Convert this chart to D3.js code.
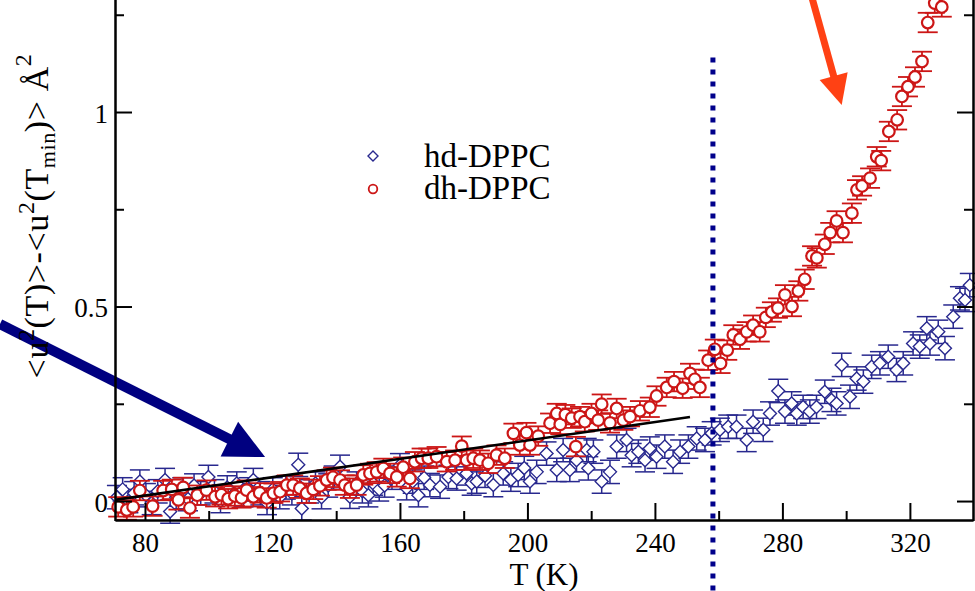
<!DOCTYPE html>
<html><head><meta charset="utf-8">
<script src="https://cdn.jsdelivr.net/npm/d3@7"></script>
<style>
html,body{margin:0;padding:0;background:#fff;overflow:hidden}
svg{display:block}
text{font-family:"Liberation Serif","Times New Roman",serif;fill:#000}
</style>
</head><body>
<svg id="chart" width="975" height="591"></svg>
<script>
// ---- data ----
const redName = "dh-DPPC";
const blueName = "hd-DPPC";
const redT = [71.6,74.3,76.3,78.4,82.4,85.7,88.4,90.5,92.0,94.1,
  96.4,99.3,102.0,104.0,106.1,108.2,110.3,111.9,114.0,116.0,
  118.2,120.3,122.4,124.5,126.5,128.6,130.7,132.8,134.9,137.0,
  139.0,141.2,142.7,144.3,146.4,148.5,150.6,152.7,154.8,156.9,
  159.0,161.0,163.1,164.7,166.8,168.9,171.5,174.7,177.3,179.4,
  180.9,183.0,185.1,187.7,190.3,192.9,195.6,197.6,199.7,200.8,
  203.4,207.1,209.2,210.3,211.9,213.9,215.2,216.5,218.0,220.1,
  222.2,223.3,225.9,228.0,230.1,232.2,235.3,238.4,240.5,243.7,
  246.0,248.7,251.0,252.5,254.1,256.7,258.8,260.6,262.7,264.6,
  266.7,268.8,270.8,272.9,274.8,276.7,278.6,280.8,283.0,285.0,
  287.0,289.3,290.8,293.3,295.0,297.0,299.0,301.8,303.4,305.0,
  307.5,309.6,311.0,313.4,316.0,317.5,319.4,321.6,323.8,325.6,
  327.8,330.0,332.0];
const redV = [-0.015,-0.023,-0.015,0.027,-0.013,0.027,0.030,0.003,0.035,-0.018,
  0.015,0.028,0.011,0.016,0.006,0.013,0.008,0.028,0.011,0.021,
  0.008,0.020,0.024,0.041,0.041,0.033,0.020,0.030,0.039,0.054,
  0.061,0.054,0.041,0.033,0.041,0.067,0.071,0.075,0.084,0.071,
  0.062,0.087,0.058,0.101,0.110,0.110,0.114,0.101,0.105,0.141,
  0.105,0.110,0.105,0.097,0.118,0.110,0.174,0.144,0.176,0.144,
  0.167,0.200,0.225,0.197,0.222,0.213,0.140,0.217,0.204,0.225,
  0.208,0.249,0.201,0.238,0.208,0.217,0.232,0.241,0.270,0.292,
  0.307,0.290,0.328,0.313,0.292,0.362,0.390,0.354,0.388,0.427,
  0.416,0.435,0.452,0.435,0.472,0.486,0.496,0.530,0.500,0.540,
  0.570,0.630,0.625,0.660,0.690,0.720,0.690,0.740,0.800,0.810,
  0.830,0.885,0.875,0.950,0.980,1.040,1.065,1.090,1.130,1.230,
  1.280,1.270,1.330];
const blueT = [71.2,73.0,74.8,76.6,78.4,80.3,82.1,84.0,86.3,87.9,
  89.8,91.7,93.5,95.4,97.5,99.9,101.8,103.7,105.8,108.8,
  110.9,112.5,114.0,116.2,118.3,120.1,122.3,124.2,126.1,128.1,
  129.2,131.5,133.5,135.4,137.5,139.2,141.2,144.3,146.4,148.2,
  150.1,151.6,153.5,155.2,157.5,160.0,162.1,164.0,165.8,167.6,
  169.4,172.6,175.2,177.8,180.9,182.5,184.1,186.7,189.3,192.4,
  194.8,197.1,199.0,200.8,202.9,206.0,209.2,211.2,213.3,215.4,
  218.6,219.1,220.7,223.3,225.9,228.0,231.1,232.7,234.8,236.9,
  238.4,240.5,243.1,245.7,247.9,250.5,253.1,255.7,257.8,260.4,
  263.0,265.6,268.8,270.8,274.0,276.1,278.7,280.8,282.9,284.5,
  286.5,288.6,290.7,293.3,295.4,297.0,298.6,301.2,303.3,305.4,
  308.0,310.6,313.2,315.8,317.9,321.0,323.1,325.3,326.3,328.9,
  331.0,333.6,335.7,337.3,338.8];
const blueV = [0.010,0.030,0.000,0.020,0.050,0.015,-0.005,0.025,0.054,-0.027,
  0.010,0.030,0.005,0.040,0.020,0.062,0.025,0.000,0.035,0.045,
  0.015,0.030,0.054,0.020,-0.005,0.030,0.010,0.035,0.020,0.093,
  -0.019,0.025,0.045,0.010,0.040,0.060,0.088,0.011,0.045,0.025,
  0.015,0.045,0.030,0.040,0.060,0.092,0.033,0.050,0.015,0.060,
  0.041,0.037,0.062,0.058,0.071,0.045,0.050,0.065,0.041,0.071,
  0.055,0.067,0.085,0.050,0.075,0.122,0.080,0.131,0.080,0.105,
  0.131,0.084,0.127,0.050,0.075,0.140,0.157,0.118,0.127,0.105,
  0.135,0.114,0.140,0.101,0.127,0.140,0.161,0.157,0.174,0.183,
  0.191,0.191,0.157,0.204,0.183,0.225,0.283,0.230,0.251,0.225,
  0.242,0.230,0.242,0.281,0.260,0.251,0.350,0.268,0.315,0.307,
  0.345,0.354,0.371,0.337,0.354,0.405,0.397,0.444,0.405,0.435,
  0.393,0.474,0.521,0.517,0.555];
const redErr = 0.025;
const blueErr = 0.03;
const fitT = [70.6, 251.0];
const fitV = [0.003, 0.216];
const markerT = 258.2;            // vertical dotted line
const markerV = [1.14, -0.25];
const blueArrowT = [34.5, 117.7], blueArrowV = [0.455, 0.113];
const redArrowT = [288.6, 298.6], redArrowV = [1.314, 1.018];
const xMajor = [80,120,160,200,240,280,320];
const xMinor = [100,140,180,220,260,300];
const yMajor = [0,0.5,1];
const yMinor = [0.25,0.75,1.25];

// ---- drawing ----
const svg = d3.select('#chart');
const x = d3.scaleLinear().domain([70.6, 339.8]).range([115, 973]);
const y = d3.scaleLinear().domain([-0.05, 1.3]).range([520.5, -4.7]);
const RED = '#cc1616', BLUE = '#28288e';
const capW = 10;

function drawSeries(T, V, err, color, kind) {
  const g = svg.append('g');
  const d = T.map((t,i)=>({t, v:V[i]}));
  const eb = g.append('g').attr('stroke', color).attr('stroke-width', kind==='circle'?1.8:1.5).attr('fill','none');
  d.forEach(p=>{
    const cx = x(p.t), y0 = y(p.v-err), y1 = y(p.v+err);
    eb.append('line').attr('x1',cx).attr('x2',cx).attr('y1',y0).attr('y2',y1);
    eb.append('line').attr('x1',cx-capW).attr('x2',cx+capW).attr('y1',y0).attr('y2',y0);
    eb.append('line').attr('x1',cx-capW).attr('x2',cx+capW).attr('y1',y1).attr('y2',y1);
  });
  const mk = g.append('g');
  if (kind === 'diamond') {
    mk.selectAll('path').data(d).join('path')
      .attr('d', p=>{const cx=x(p.t), cy=y(p.v), s=6.5; return `M${cx},${cy-s}L${cx+s},${cy}L${cx},${cy+s}L${cx-s},${cy}Z`;})
      .attr('fill','#fff').attr('stroke', color).attr('stroke-width',1.4);
  } else {
    mk.selectAll('circle').data(d).join('circle')
      .attr('cx', p=>x(p.t)).attr('cy', p=>y(p.v)).attr('r', 5.8)
      .attr('fill','#fff').attr('stroke', color).attr('stroke-width',2.2);
  }
}
drawSeries(blueT, blueV, blueErr, BLUE, 'diamond');
drawSeries(redT, redV, redErr, RED, 'circle');

// fit line
svg.append('path')
  .attr('d', d3.line()(fitT.map((t,i)=>[x(t), y(fitV[i])])))
  .attr('stroke','#000').attr('stroke-width',2.6).attr('fill','none');

// dotted vertical line
svg.append('line')
  .attr('x1', x(markerT)).attr('x2', x(markerT))
  .attr('y1', y(markerV[0])).attr('y2', y(markerV[1]))
  .attr('stroke','#00008b').attr('stroke-width',5).attr('stroke-dasharray','5,7');

// arrows
function arrow(T, V, shaftW, headL, headHW, color) {
  const p0 = [x(T[0]), y(V[0])], p1 = [x(T[1]), y(V[1])];
  const dx = p1[0]-p0[0], dy = p1[1]-p0[1], len = Math.hypot(dx,dy);
  const u = [dx/len, dy/len], n = [-u[1], u[0]];
  const b = [p1[0]-u[0]*headL, p1[1]-u[1]*headL];
  svg.append('line').attr('x1',p0[0]).attr('y1',p0[1])
    .attr('x2',b[0]+u[0]*2).attr('y2',b[1]+u[1]*2)
    .attr('stroke',color).attr('stroke-width',shaftW);
  svg.append('path')
    .attr('d', `M${p1[0]},${p1[1]}L${b[0]+n[0]*headHW},${b[1]+n[1]*headHW}L${b[0]-n[0]*headHW},${b[1]-n[1]*headHW}Z`)
    .attr('fill', color);
}
arrow(blueArrowT, blueArrowV, 10, 40, 19.5, '#000080');
arrow(redArrowT, redArrowV, 7, 30, 14.5, '#ff4114');

// axes
function styleAxis(g){
  g.attr('font-family', null).attr('font-size', null);
  g.selectAll('path.domain').attr('stroke','#000').attr('stroke-width',2);
  g.selectAll('.tick line').attr('stroke','#000').attr('stroke-width',2);
  g.selectAll('text').attr('font-size','27px').attr('fill','#000')
    .style('font-family','"Liberation Serif","Times New Roman",serif');
}
const gx = svg.append('g').attr('transform','translate(0,520)')
  .call(d3.axisBottom(x).tickValues(xMajor).tickSizeInner(-17).tickSizeOuter(0).tickPadding(13).tickFormat(d=>String(d)));
styleAxis(gx);
const gxm = svg.append('g').attr('transform','translate(0,520)')
  .call(d3.axisBottom(x).tickValues(xMinor).tickSizeInner(-9).tickSizeOuter(0).tickFormat(''));
styleAxis(gxm);
const gy = svg.append('g').attr('transform','translate(115,0)')
  .call(d3.axisLeft(y).tickValues(yMajor).tickSizeInner(-17).tickSizeOuter(0).tickPadding(7).tickFormat(d=>String(d)));
styleAxis(gy);
gy.selectAll('text').attr('dy','0.38em');
const gym = svg.append('g').attr('transform','translate(115,0)')
  .call(d3.axisLeft(y).tickValues(yMinor).tickSizeInner(-9).tickSizeOuter(0).tickFormat(''));
styleAxis(gym);
const gr = svg.append('g').attr('transform','translate(973,0)')
  .call(d3.axisRight(y).tickValues(yMajor).tickSizeInner(-16).tickSizeOuter(0).tickFormat(''));
styleAxis(gr);
const grm = svg.append('g').attr('transform','translate(973,0)')
  .call(d3.axisRight(y).tickValues(yMinor).tickSizeInner(-9).tickSizeOuter(0).tickFormat(''));
styleAxis(grm);

// axis titles
svg.append('text').attr('x',544).attr('y',585).attr('text-anchor','middle')
  .attr('font-size','31px').text('T (K)');

const yt = svg.append('text').attr('transform','translate(48,216) rotate(-90)')
  .attr('text-anchor','middle').attr('font-size','34px').attr('letter-spacing','0.6px');
yt.append('tspan').text('<u');
yt.append('tspan').attr('font-size','24px').attr('dy',-14).text('2');
yt.append('tspan').attr('dy',14).text('(T)>-<u');
yt.append('tspan').attr('font-size','24px').attr('dy',-14).text('2');
yt.append('tspan').attr('dy',14).text('(T');
yt.append('tspan').attr('font-size','22px').attr('dy',7).text('min');
yt.append('tspan').attr('dy',-7).text(')> Å');
yt.append('tspan').attr('font-size','24px').attr('dy',-17).text('2');

// legend
const lg = svg.append('g');
lg.append('path').attr('d','M373,151L378,156L373,161L368,156Z')
  .attr('fill','#fff').attr('stroke',BLUE).attr('stroke-width',1.4);
lg.append('text').attr('x',424).attr('y',167).attr('font-size','33px').text(blueName);
lg.append('circle').attr('cx',373).attr('cy',189).attr('r',4.3)
  .attr('fill','#fff').attr('stroke',RED).attr('stroke-width',1.8);
lg.append('text').attr('x',424).attr('y',199).attr('font-size','33px').text(redName);
</script>
</body></html>
